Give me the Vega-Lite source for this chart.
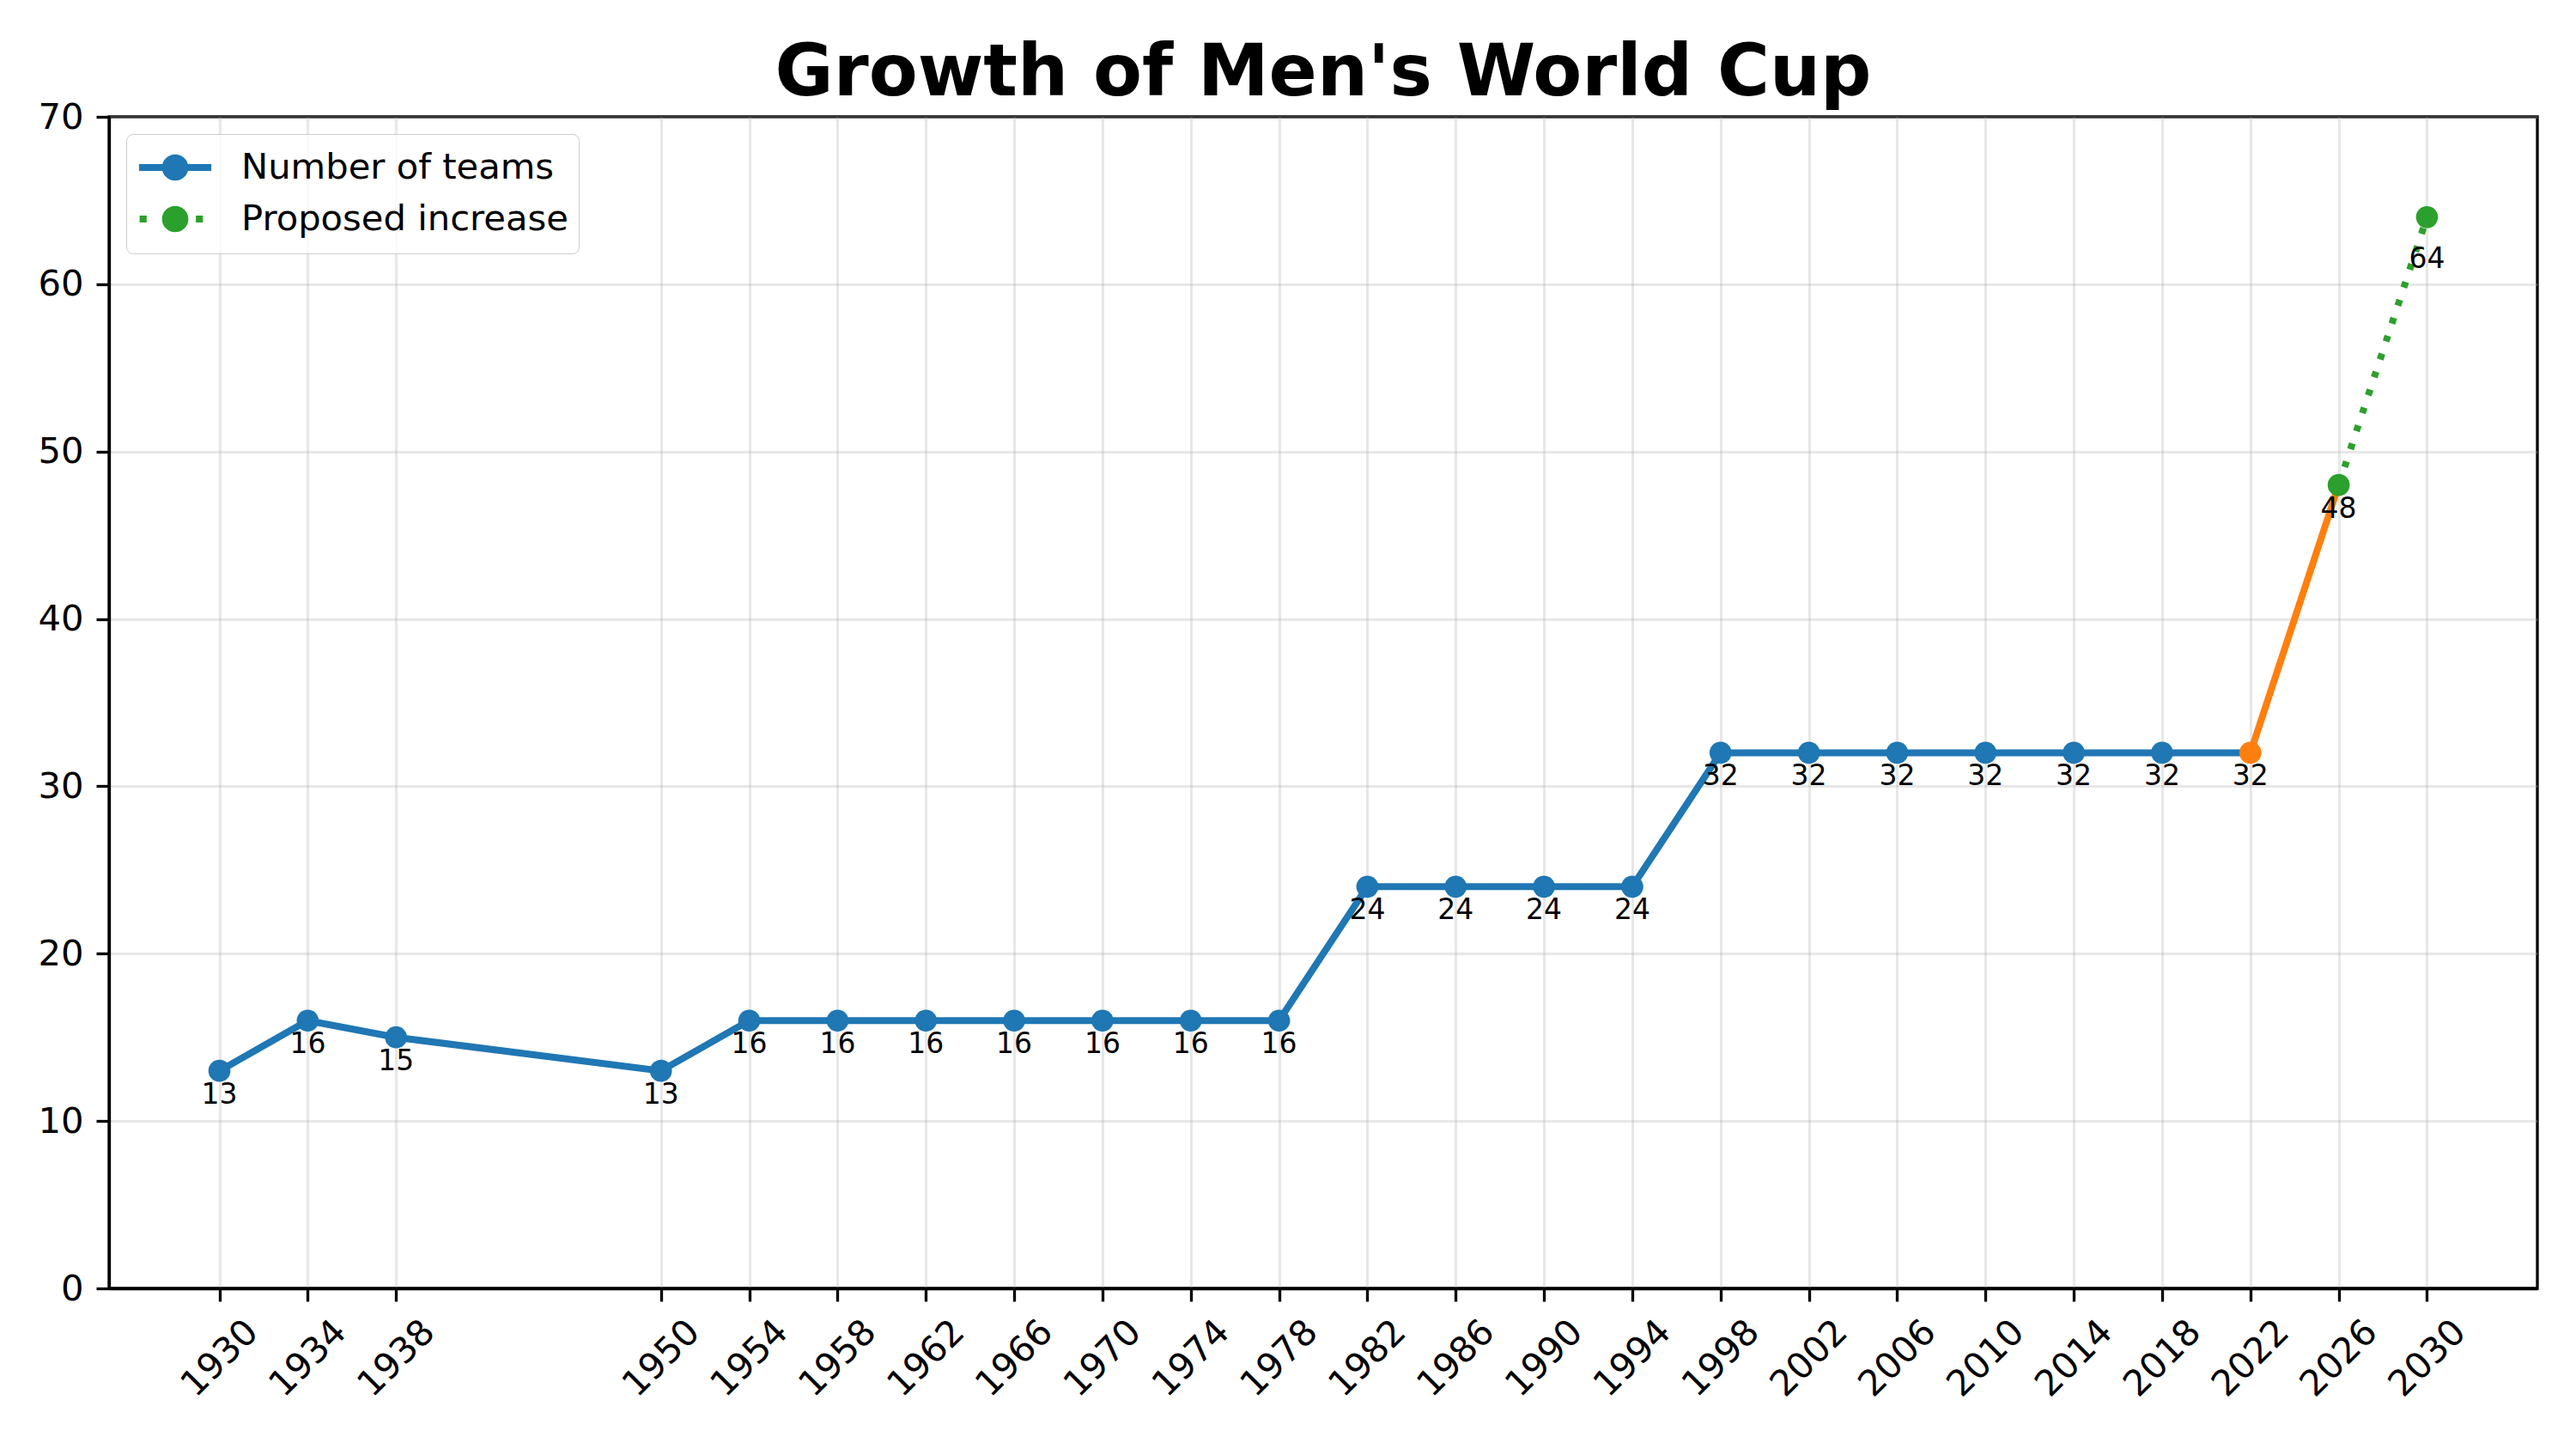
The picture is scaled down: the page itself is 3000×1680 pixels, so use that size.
{
  "$schema": "https://vega.github.io/schema/vega-lite/v6.json",
  "width": 2828,
  "height": 1364,
  "autosize": {"type": "none"},
  "padding": {"left": 127, "top": 136, "right": 45, "bottom": 180},
  "background": "white",
  "title": {
    "text": "Growth of Men's World Cup",
    "font": "DejaVu Sans",
    "fontSize": 83,
    "fontWeight": "bold",
    "color": "black",
    "anchor": "middle",
    "baseline": "alphabetic",
    "offset": -78
  },
  "datasets": {
    "lines": [
      {"year": 1930, "teams": 13, "series": "Number of teams"},
      {"year": 1934, "teams": 16, "series": "Number of teams"},
      {"year": 1938, "teams": 15, "series": "Number of teams"},
      {"year": 1950, "teams": 13, "series": "Number of teams"},
      {"year": 1954, "teams": 16, "series": "Number of teams"},
      {"year": 1958, "teams": 16, "series": "Number of teams"},
      {"year": 1962, "teams": 16, "series": "Number of teams"},
      {"year": 1966, "teams": 16, "series": "Number of teams"},
      {"year": 1970, "teams": 16, "series": "Number of teams"},
      {"year": 1974, "teams": 16, "series": "Number of teams"},
      {"year": 1978, "teams": 16, "series": "Number of teams"},
      {"year": 1982, "teams": 24, "series": "Number of teams"},
      {"year": 1986, "teams": 24, "series": "Number of teams"},
      {"year": 1990, "teams": 24, "series": "Number of teams"},
      {"year": 1994, "teams": 24, "series": "Number of teams"},
      {"year": 1998, "teams": 32, "series": "Number of teams"},
      {"year": 2002, "teams": 32, "series": "Number of teams"},
      {"year": 2006, "teams": 32, "series": "Number of teams"},
      {"year": 2010, "teams": 32, "series": "Number of teams"},
      {"year": 2014, "teams": 32, "series": "Number of teams"},
      {"year": 2018, "teams": 32, "series": "Number of teams"},
      {"year": 2022, "teams": 32, "series": "Number of teams"},
      {"year": 2022, "teams": 32, "series": "Confirmed increase"},
      {"year": 2026, "teams": 48, "series": "Confirmed increase"},
      {"year": 2026, "teams": 48, "series": "Proposed increase"},
      {"year": 2030, "teams": 64, "series": "Proposed increase"}
    ],
    "points": [
      {"year": 1930, "teams": 13, "series": "Number of teams"},
      {"year": 1934, "teams": 16, "series": "Number of teams"},
      {"year": 1938, "teams": 15, "series": "Number of teams"},
      {"year": 1950, "teams": 13, "series": "Number of teams"},
      {"year": 1954, "teams": 16, "series": "Number of teams"},
      {"year": 1958, "teams": 16, "series": "Number of teams"},
      {"year": 1962, "teams": 16, "series": "Number of teams"},
      {"year": 1966, "teams": 16, "series": "Number of teams"},
      {"year": 1970, "teams": 16, "series": "Number of teams"},
      {"year": 1974, "teams": 16, "series": "Number of teams"},
      {"year": 1978, "teams": 16, "series": "Number of teams"},
      {"year": 1982, "teams": 24, "series": "Number of teams"},
      {"year": 1986, "teams": 24, "series": "Number of teams"},
      {"year": 1990, "teams": 24, "series": "Number of teams"},
      {"year": 1994, "teams": 24, "series": "Number of teams"},
      {"year": 1998, "teams": 32, "series": "Number of teams"},
      {"year": 2002, "teams": 32, "series": "Number of teams"},
      {"year": 2006, "teams": 32, "series": "Number of teams"},
      {"year": 2010, "teams": 32, "series": "Number of teams"},
      {"year": 2014, "teams": 32, "series": "Number of teams"},
      {"year": 2018, "teams": 32, "series": "Number of teams"},
      {"year": 2022, "teams": 32, "series": "Confirmed increase"},
      {"year": 2026, "teams": 48, "series": "Proposed increase"},
      {"year": 2030, "teams": 64, "series": "Proposed increase"}
    ]
  },
  "encoding": {
    "x": {
      "field": "year",
      "type": "quantitative",
      "scale": {"domain": [1925, 2035], "nice": false, "zero": false},
      "axis": {
        "title": null,
        "values": [1930, 1934, 1938, 1950, 1954, 1958, 1962, 1966, 1970, 1974, 1978, 1982, 1986, 1990, 1994, 1998, 2002, 2006, 2010, 2014, 2018, 2022, 2026, 2030],
        "format": "d",
        "labelAngle": -45,
        "labelAlign": "center",
        "labelBaseline": "middle",
        "labelPadding": 66,
        "labelOverlap": false,
        "labelFlush": false
      }
    },
    "y": {
      "field": "teams",
      "type": "quantitative",
      "scale": {"domain": [0, 70], "nice": false},
      "axis": {
        "title": null,
        "values": [0, 10, 20, 30, 40, 50, 60, 70],
        "labelPadding": 15
      }
    },
    "color": {
      "field": "series",
      "type": "nominal",
      "scale": {
        "domain": ["Number of teams", "Proposed increase", "Confirmed increase"],
        "range": ["#1f77b4", "#2ca02c", "#ff7f0e"]
      },
      "legend": {
        "values": ["Number of teams", "Proposed increase"],
        "encode": {
          "symbols": {
            "update": {
              "shape": {"signal": "datum.value === 'Proposed increase' ? 'M-1.82,0H-1.46M1.06,0H1.42M-0.5,0A0.5,0.5,0,1,0,0.5,0A0.5,0.5,0,1,0,-0.5,0Z' : 'M-1.85,0H1.85M-0.5,0A0.5,0.5,0,1,0,0.5,0A0.5,0.5,0,1,0,-0.5,0Z'"},
              "fill": {"signal": "scale('color', datum.value)"},
              "stroke": {"signal": "scale('color', datum.value)"},
              "strokeWidth": {"value": 8},
              "opacity": {"value": 1}
            }
          }
        }
      }
    }
  },
  "layer": [
    {
      "data": {"name": "lines"},
      "transform": [{"filter": "datum.series !== 'Proposed increase'"}],
      "mark": {"type": "line", "strokeWidth": 8, "strokeCap": "butt"}
    },
    {
      "data": {"name": "lines"},
      "transform": [{"filter": "datum.series === 'Proposed increase'"}],
      "mark": {"type": "line", "strokeWidth": 8, "strokeCap": "butt", "strokeDash": [7, 15]}
    },
    {
      "data": {"name": "points"},
      "mark": {"type": "point", "filled": true, "shape": "circle", "size": 660, "opacity": 1, "strokeWidth": 0}
    },
    {
      "data": {"name": "points"},
      "transform": [{"filter": "datum.year !== 2030"}],
      "mark": {"type": "text", "dy": 28, "align": "center", "baseline": "middle", "fontSize": 33, "font": "DejaVu Sans", "color": "black"},
      "encoding": {
        "text": {"field": "teams", "type": "quantitative", "format": "d"},
        "color": {"value": "black"}
      }
    },
    {
      "data": {"name": "points"},
      "transform": [{"filter": "datum.year === 2030"}],
      "mark": {"type": "text", "dy": 49, "align": "center", "baseline": "middle", "fontSize": 33, "font": "DejaVu Sans", "color": "black"},
      "encoding": {
        "text": {"field": "teams", "type": "quantitative", "format": "d"},
        "color": {"value": "black"}
      }
    }
  ],
  "config": {
    "font": "DejaVu Sans",
    "view": {"stroke": "black", "strokeWidth": 3.3},
    "axis": {
      "labelFont": "DejaVu Sans",
      "labelFontSize": 41.7,
      "labelColor": "black",
      "domainColor": "black",
      "domainWidth": 3.3,
      "tickColor": "black",
      "tickWidth": 3.3,
      "tickSize": 15,
      "grid": true,
      "gridColor": "#b0b0b0",
      "gridOpacity": 0.3,
      "gridWidth": 3
    },
    "legend": {
      "orient": "top-left",
      "offset": 20,
      "title": null,
      "padding": 12,
      "labelFont": "DejaVu Sans",
      "labelFontSize": 41.7,
      "labelColor": "black",
      "labelLimit": 0,
      "labelOffset": 50,
      "symbolOffset": 18,
      "symbolType": "M-1.85,0H1.85M-0.5,0A0.5,0.5,0,1,0,0.5,0A0.5,0.5,0,1,0,-0.5,0Z",
      "symbolSize": 2070,
      "symbolStrokeWidth": 8,
      "symbolOpacity": 1,
      "rowPadding": 4,
      "strokeColor": "#cccccc",
      "fillColor": "rgba(255,255,255,0.8)",
      "cornerRadius": 8
    }
  }
}
